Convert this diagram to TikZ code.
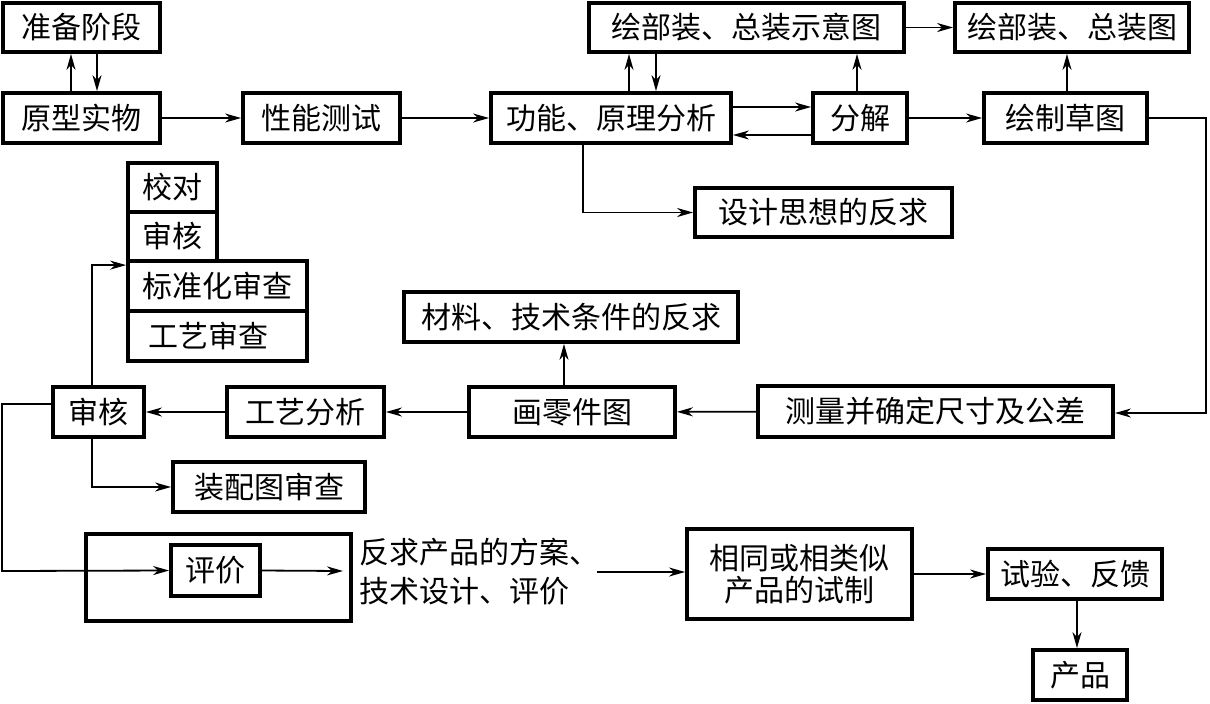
\documentclass[tikz,border=0pt]{standalone}
\usepackage{fontspec}
\setmainfont{Noto Sans CJK SC}
\usetikzlibrary{arrows.meta,fit}
\begin{document}
\begin{tikzpicture}[x=0.5pt,y=-0.5pt,font=\fontsize{15}{17}\selectfont,
  box/.style={draw,line width=1.9pt,inner sep=0pt},
  arr/.style={line width=0.9pt,-{Stealth[length=8pt,width=4.5pt,inset=2.5pt]}},
  ln/.style={line width=0.9pt}]
\useasboundingbox (0,0) rectangle (1210,703);
% boxes
\node[box,fit={(3,3)(160,52)},label=center:{准备阶段}] (prep) {};
\node[box,fit={(3,93)(160,143)},label=center:{原型实物}] (proto) {};
\node[box,fit={(243,93)(400,143)},label=center:{性能测试}] (perf) {};
\node[box,fit={(491,93)(731,143)},label=center:{功能、原理分析}] (func) {};
\node[box,fit={(589,3)(904,52)},label=center:{绘部装、总装示意图}] (sketch) {};
\node[box,fit={(955,3)(1189,52)},label=center:{绘部装、总装图}] (asm) {};
\node[box,fit={(813,93)(907,143)},label=center:{分解}] (decomp) {};
\node[box,fit={(984,93)(1147,143)},label=center:{绘制草图}] (draft) {};
\node[box,fit={(695,188)(952,237)},label=center:{设计思想的反求}] (design) {};
\node[box,fit={(128,163)(217,212)},label=center:{校对}] (check) {};
\node[box,fit={(128,212)(217,261)},label=center:{审核}] (review) {};
\node[box,fit={(128,261)(307,311)},label=center:{标准化审查}] (std) {};
\node[box,fit={(128,311)(307,361)},label={[xshift=-4.5pt]center:{工艺审查}}] (proc) {};
\node[box,fit={(404,292)(738,342)},label=center:{材料、技术条件的反求}] (mat) {};
\node[box,fit={(53,387)(144,437)},label=center:{审核}] (audit) {};
\node[box,fit={(227,387)(384,437)},label=center:{工艺分析}] (tech) {};
\node[box,fit={(469,387)(675,437)},label=center:{画零件图}] (part) {};
\node[box,fit={(758,386)(1113,437)},label=center:{测量并确定尺寸及公差}] (meas) {};
\node[box,fit={(173,462)(365,512)},label=center:{装配图审查}] (asmrev) {};
\node[box,fit={(86,534)(351,621)}] (outer) {};
\node[box,fit={(171,545)(260,596)},label=center:{评价}] (eval) {};
\node[anchor=west,align=left,inner sep=0pt,font=\fontsize{15}{19.5}\selectfont] (scheme) at (359,572) {反求产品的方案、\\技术设计、评价};
\node[box,fit={(687,529)(912,619)},label={[align=center,font=\fontsize{15}{16}\selectfont]center:{相同或相类似\\产品的试制}}] (trial) {};
\node[box,fit={(988,549)(1162,599)},label=center:{试验、反馈}] (test) {};
\node[box,fit={(1033,650)(1127,700)},label=center:{产品}] (prod) {};
% helper coordinates
\coordinate (x71) at (71,0);
\coordinate (x97) at (97,0);
\coordinate (x629) at (629,0);
\coordinate (x656) at (656,0);
\coordinate (x857) at (857,0);
\coordinate (x1067) at (1067,0);
\coordinate (x583) at (583,0);
\coordinate (x564) at (564,0);
\coordinate (x92) at (92,0);
\coordinate (x1077) at (1077,0);
\coordinate (y107) at (0,107);
\coordinate (y135) at (0,135);
\coordinate (rc1) at (1206,118);
\coordinate (rc2) at (1206,413);
\coordinate (lc1) at (2,404);
\coordinate (lc2) at (2,571);
\coordinate (evalend) at (343,571);
\coordinate (schemeend) at (597,572);
% connectors
\draw[arr] (proto.north -| x71) -- (prep.south -| x71);
\draw[arr] (prep.south -| x97) -- (proto.north -| x97);
\draw[arr] (proto) -- (perf);
\draw[arr] (perf) -- (func);
\draw[arr] (func.north -| x629) -- (sketch.south -| x629);
\draw[arr] (sketch.south -| x656) -- (func.north -| x656);
\draw[arr] (func.east |- y107) -- (decomp.west |- y107);
\draw[arr] (decomp.west |- y135) -- (func.east |- y135);
\draw[arr] (decomp) -- (draft);
\draw[arr] (decomp.north -| x857) -- (sketch.south -| x857);
\draw[arr] (sketch) -- (asm);
\draw[arr] (draft.north -| x1067) -- (asm.south -| x1067);
\draw[arr] (draft.east |- rc1) -- (rc1) -- (rc2) -- (meas.east |- rc2);
\draw[arr] (func.south -| x583) |- (design.west);
\draw[arr] (meas) -- (part);
\draw[arr] (part) -- (tech);
\draw[arr] (tech) -- (audit);
\draw[arr] (part.north -| x564) -- (mat.south -| x564);
\draw[arr] (audit.north -| x92) |- ([yshift=-3pt]std.north west);
\draw[arr] (audit.south -| x92) |- (asmrev.west);
\draw[arr] ([yshift=4pt]audit.west) -- (lc1) -- (lc2) -- (eval.west);
\draw[arr] (eval.east) -- (evalend);
\draw[arr] (schemeend) -- (trial.west |- schemeend);
\draw[arr] (trial) -- (test);
\draw[arr] (test.south -| x1077) -- (prod.north -| x1077);
\end{tikzpicture}
\end{document}
